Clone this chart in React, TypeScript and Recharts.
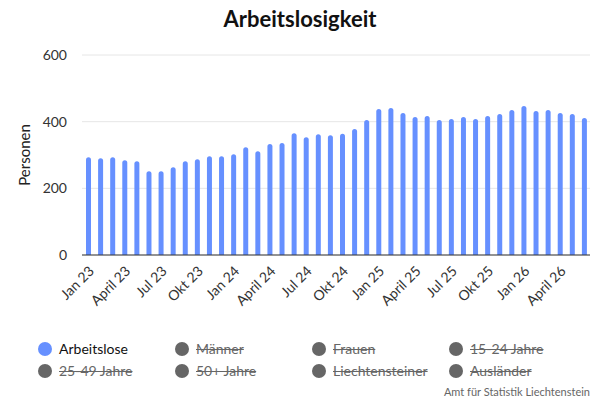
import { BarChart, Bar, XAxis, YAxis, CartesianGrid } from "recharts";

const months = ["Jan", "Feb", "März", "April", "Mai", "Juni", "Jul", "Aug", "Sept", "Okt", "Nov", "Dez"];
const years = ["23", "24", "25", "26"];

const arbeitslose = [
	293, 290, 293, 284, 281, 251, 251, 263, 281, 287, 296, 296,
	302, 323, 311, 333, 336, 365, 353, 362, 359, 364, 378, 405,
	438, 441, 426, 414, 417, 405, 408, 414, 408, 417, 423, 435,
	447, 432, 435, 426, 423, 411,
];

const yTicks = [0, 200, 400, 600];

const legendItems = [
	{ name: "Arbeitslose", active: true },
	{ name: "Männer", active: false },
	{ name: "Frauen", active: false },
	{ name: "15-24 Jahre", active: false },
	{ name: "25-49 Jahre", active: false },
	{ name: "50+ Jahre", active: false },
	{ name: "Liechtensteiner", active: false },
	{ name: "Ausländer", active: false },
];

const labels = arbeitslose.map((_, i) => `${months[i % 12]} ${years[Math.floor(i / 12)]}`);
const data = arbeitslose.map((v, i) => ({ month: labels[i], value: v }));

const font = "Lato, 'Noto Sans', sans-serif";

export default function App() {
	return (
		<div style={{ position: "relative", width: 600, height: 400, fontFamily: font, background: "#fff" }}>
			<style>{"body{margin:0}"}</style>
			<div
				style={{
					position: "absolute",
					top: 5,
					left: 0,
					width: 600,
					textAlign: "center",
					fontSize: 22,
					fontWeight: 700,
					color: "#111",
				}}
			>
				Arbeitslosigkeit
			</div>
			<BarChart width={600} height={400} data={data} margin={{ top: 55, right: 10, bottom: 85, left: 8 }}>
				<CartesianGrid vertical={false} stroke="#e6e6e6" />
				<XAxis
					dataKey="month"
					interval={2}
					angle={-45}
					textAnchor="end"
					height={60}
					tickLine={false}
					tickSize={0}
					tickMargin={10}
					stroke="#333"
					tick={{ fontSize: 14, fill: "#333", fontFamily: font }}
				/>
				<YAxis
					width={74}
					domain={[0, 600]}
					ticks={yTicks}
					axisLine={false}
					tickLine={false}
					tickSize={0}
					tickMargin={15}
					tick={{ fontSize: 14, fill: "#333", fontFamily: font }}
					label={{
						value: "Personen",
						angle: -90,
						position: "insideLeft",
						offset: 17,
						style: { fontSize: 15, fill: "#222", fontFamily: font, textAnchor: "middle" },
					}}
				/>
				<Bar dataKey="value" fill="#6690ff" barSize={5} radius={[3, 3, 0, 0]} isAnimationActive={false} />
			</BarChart>
			{legendItems.map((item, i) => (
				<div
					key={item.name}
					style={{
						position: "absolute",
						left: 38 + (i % 4) * 137,
						top: 340 + Math.floor(i / 4) * 22,
						display: "flex",
						alignItems: "center",
						fontSize: 14,
						color: item.active ? "#111" : "#666",
						textDecoration: item.active ? "none" : "line-through",
					}}
				>
					<span
						style={{
							width: 14,
							height: 14,
							borderRadius: 7,
							background: item.active ? "#6690ff" : "#666",
							marginRight: 7,
							display: "inline-block",
						}}
					/>
					{item.name}
				</div>
			))}
			<div
				style={{
					position: "absolute",
					right: 10,
					top: 385,
					fontSize: 11,
					color: "#666",
				}}
			>
				Amt für Statistik Liechtenstein
			</div>
		</div>
	);
}
